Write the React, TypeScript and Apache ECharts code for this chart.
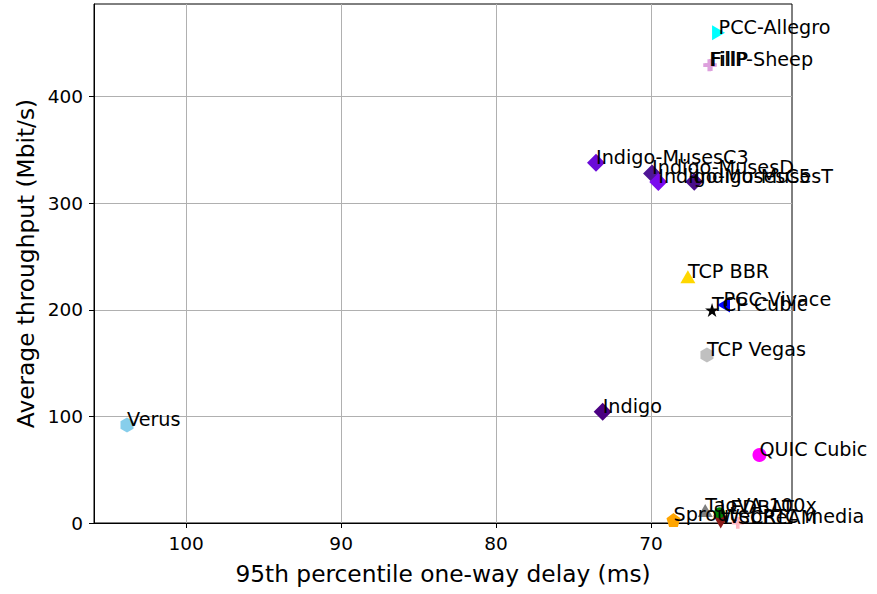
import React, { useEffect, useRef } from "react";
import * as echarts from "echarts";

// ---- data ----
const schemes = [
  "FillP", "FillP-Sheep", "PCC-Allegro", "Indigo-MusesC3", "Indigo-MusesD", "Indigo-MusesC5",
  "Indigo-MusesT", "TCP BBR", "PCC-Vivace", "TCP Cubic", "TCP Vegas", "Verus", "Indigo",
  "QUIC Cubic", "TaoVA-100x", "Sprout", "WebRTC media", "LEDBAT", "SCReAM",
];
const delays95 = [
  66.14, 66.24, 65.64, 73.55, 69.93, 69.53,
  67.21, 67.62, 65.32, 66.06, 66.39, 103.82, 73.12,
  63.0, 66.5, 68.55, 65.5, 65.58, 64.4,
];
const throughputs = [
  429.8, 429.6, 460.0, 338.0, 328.0, 319.9,
  320.2, 231.0, 204.5, 199.8, 157.6, 91.9, 104.4,
  63.8, 11.7, 2.8, 0.9, 9.7, 0.3,
];
const xTicks = [70, 80, 90, 100];
const yTicks = [0, 100, 200, 300, 400];

// ---- marker styles ----
const TRI_RIGHT = "path://M0,0 L10,5 L0,10 Z";
const TRI_LEFT = "path://M10,0 L0,5 L10,10 Z";
const TRI_DOWN = "path://M0,0 L10,0 L5,10 Z";
const HEX = "path://M5,0 L9.33,2.5 L9.33,7.5 L5,10 L0.67,7.5 L0.67,2.5 Z";
const STAR =
  "path://M5,0 L6.18,3.62 L10,3.62 L6.91,5.86 L8.09,9.51 L5,7.27 L1.91,9.51 L3.09,5.86 L0,3.62 L3.82,3.62 Z";
const PENT = "path://M5,0 L10,3.63 L8.09,9.51 L1.91,9.51 L0,3.63 Z";
const PLUS = "path://M3.5,0 H6.5 V3.5 H10 V6.5 H6.5 V10 H3.5 V6.5 H0 V3.5 H3.5 Z";

const markerStyles: Record<string, { symbol: string; size: number[]; color: string }> = {
  "FillP": { symbol: PLUS, size: [12, 12], color: "#dda0dd" },
  "FillP-Sheep": { symbol: PLUS, size: [12, 12], color: "#dda0dd" },
  "PCC-Allegro": { symbol: TRI_RIGHT, size: [13, 15], color: "#00ffff" },
  "Indigo-MusesC3": { symbol: "diamond", size: [18, 18], color: "#6a0ad8" },
  "Indigo-MusesD": { symbol: "diamond", size: [18, 18], color: "#4f1596" },
  "Indigo-MusesC5": { symbol: "diamond", size: [18, 18], color: "#7a0aee" },
  "Indigo-MusesT": { symbol: "diamond", size: [18, 18], color: "#4a0d8a" },
  "TCP BBR": { symbol: "triangle", size: [15, 13], color: "#ffd700" },
  "PCC-Vivace": { symbol: TRI_LEFT, size: [13, 15], color: "#0000ff" },
  "TCP Cubic": { symbol: STAR, size: [14, 14], color: "#000000" },
  "TCP Vegas": { symbol: HEX, size: [13, 15], color: "#c0c0c0" },
  "Verus": { symbol: HEX, size: [13, 15], color: "#87ceeb" },
  "Indigo": { symbol: "diamond", size: [18, 18], color: "#4b0082" },
  "QUIC Cubic": { symbol: "circle", size: [14, 14], color: "#ff00ff" },
  "TaoVA-100x": { symbol: "triangle", size: [15, 13], color: "#808080" },
  "Sprout": { symbol: PENT, size: [14, 14], color: "#ffa500" },
  "WebRTC media": { symbol: TRI_DOWN, size: [15, 13], color: "#8b1a1a" },
  "LEDBAT": { symbol: "circle", size: [11, 11], color: "#008000" },
  "SCReAM": { symbol: PLUS, size: [12, 12], color: "#ffb6c1" },
};

const FONT = "DejaVu Sans";

export default function App() {
  const ref = useRef<HTMLDivElement>(null);
  useEffect(() => {
    if (!ref.current) return;
    const chart = echarts.init(ref.current, null, { renderer: "svg" });
    const data = schemes.map((name, i) => {
      const m = markerStyles[name];
      return {
        name,
        value: [delays95[i], throughputs[i]],
        symbol: m.symbol,
        symbolSize: m.size,
        itemStyle: { color: m.color, opacity: 1 },
      };
    });
    chart.setOption({
      animation: false,
      backgroundColor: "#ffffff",
      grid: {
        left: 94,
        right: 85,
        top: 4,
        bottom: 71,
        show: true,
        borderColor: "#000",
        borderWidth: 1,
        backgroundColor: "transparent",
      },
      xAxis: {
        type: "value",
        inverse: true,
        min: 60.9,
        max: 105.95,
        name: "95th percentile one-way delay (ms)",
        nameLocation: "middle",
        nameGap: 39,
        nameTextStyle: { fontFamily: FONT, fontSize: 23.3, color: "#000" },
        axisLine: { show: true, onZero: false, lineStyle: { color: "#000", width: 1 } },
        axisTick: { show: true, length: 5, customValues: xTicks, lineStyle: { color: "#000" } },
        axisLabel: {
          customValues: xTicks,
          fontFamily: FONT,
          fontSize: 18.5,
          color: "#000",
          margin: 11,
        },
        splitLine: { show: true, lineStyle: { color: "#b0b0b0", width: 1 } },
      },
      yAxis: {
        type: "value",
        min: 0,
        max: 487,
        name: "Average throughput (Mbit/s)",
        nameLocation: "middle",
        nameGap: 55,
        nameTextStyle: { fontFamily: FONT, fontSize: 23.3, color: "#000" },
        axisLine: { show: true, onZero: false, lineStyle: { color: "#000", width: 1 } },
        axisTick: { show: true, length: 5, customValues: yTicks, lineStyle: { color: "#000" } },
        axisLabel: {
          customValues: yTicks,
          fontFamily: FONT,
          fontSize: 18.5,
          color: "#000",
          margin: 11,
        },
        splitLine: { show: true, lineStyle: { color: "#b0b0b0", width: 1 } },
      },
      series: [
        {
          type: "scatter",
          data,
          clip: true,
          itemStyle: { opacity: 1 },
          label: {
            show: true,
            formatter: "{b}",
            position: ["50%", "50%"],
            align: "left",
            verticalAlign: "middle",
            offset: [0, -5.5],
            fontFamily: FONT,
            fontSize: 19.2,
            color: "#000",
            opacity: 1,
          },
          emphasis: { disabled: true },
        },
      ],
    });
    return () => chart.dispose();
  }, []);
  return (
    <div
      ref={ref}
      style={{ position: "fixed", left: 0, top: 0, width: 877, height: 594 }}
    />
  );
}
